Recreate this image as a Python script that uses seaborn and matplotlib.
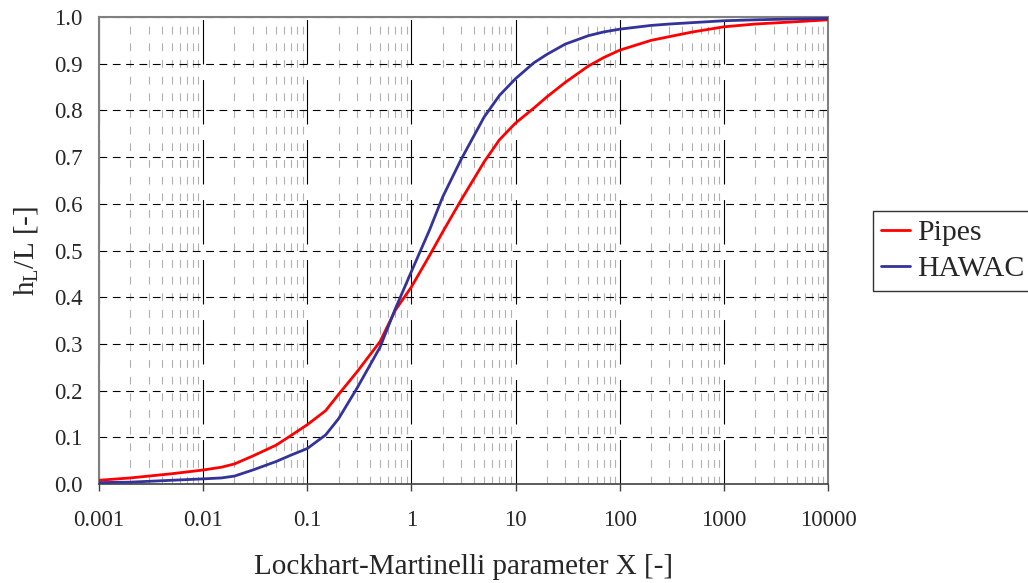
import numpy as np
import pandas as pd
import matplotlib
matplotlib.use("Agg")
import matplotlib.pyplot as plt
import matplotlib.ticker as mticker
import seaborn as sns

# ---- data ----
x_values = [0.001, 0.002, 0.005, 0.01, 0.015, 0.02, 0.03, 0.05, 0.07, 0.1, 0.15, 0.2, 0.3,
            0.5, 0.7, 1, 1.5, 2, 3, 5, 7, 10, 15, 20, 30, 50, 70, 100, 200, 300, 500,
            1000, 2000, 5000, 10000]
pipes = [0.008, 0.013, 0.022, 0.030, 0.036, 0.043, 0.060, 0.083, 0.104, 0.127, 0.157, 0.192,
         0.240, 0.305, 0.372, 0.422, 0.490, 0.540, 0.608, 0.690, 0.737, 0.773, 0.805, 0.829,
         0.860, 0.895, 0.913, 0.929, 0.950, 0.958, 0.968, 0.979, 0.985, 0.990, 0.994]
hawac = [0.003, 0.004, 0.008, 0.011, 0.013, 0.017, 0.030, 0.048, 0.062, 0.076, 0.105, 0.140,
         0.205, 0.293, 0.375, 0.455, 0.545, 0.615, 0.695, 0.786, 0.832, 0.868, 0.902, 0.920,
         0.942, 0.960, 0.968, 0.974, 0.982, 0.985, 0.988, 0.992, 0.994, 0.996, 0.997]
series_names = ["Pipes", "HAWAC"]
series_colors = ["#ff0000", "#333399"]
x_tick_values = [0.001, 0.01, 0.1, 1, 10, 100, 1000, 10000]
x_tick_labels = ["0.001", "0.01", "0.1", "1", "10", "100", "1000", "10000"]
y_tick_values = [0.0, 0.1, 0.2, 0.3, 0.4, 0.5, 0.6, 0.7, 0.8, 0.9, 1.0]

df = pd.DataFrame({
    "X": x_values * 2,
    "h": pipes + hawac,
    "series": [series_names[0]] * len(x_values) + [series_names[1]] * len(x_values),
})

sns.set_theme(style="white")
plt.rcParams["font.family"] = ["Liberation Serif", "DejaVu Serif"]
plt.rcParams["mathtext.default"] = "regular"

fig = plt.figure(figsize=(10.28, 5.83), dpi=100)
ax = fig.add_axes([0.0963, 0.1698, 0.7091, 0.8010])

sns.lineplot(data=df, x="X", y="h", hue="series", palette=series_colors,
             linewidth=2.0, ax=ax, legend=True, zorder=5)

ax.set_xscale("log")
ax.set_xlim(0.001, 10000)
ax.set_ylim(0, 1.0)

# grids
ax.xaxis.set_minor_locator(mticker.LogLocator(base=10, subs=np.arange(2, 10), numticks=100))
ax.xaxis.set_minor_formatter(mticker.NullFormatter())
for xv in x_tick_values:
    ax.axvline(xv, color="black", lw=0.8, dashes=(40, 14), zorder=1)
ax.grid(which="minor", axis="x", color="#b0b0b0", lw=0.8, dashes=(7, 8))
for yv in y_tick_values[1:]:
    ax.axhline(yv, color="black", lw=0.8, dashes=(7, 5), zorder=2)

ax.set_xticks(x_tick_values)
ax.set_xticklabels(x_tick_labels)
ax.set_yticks(y_tick_values)
ax.set_yticklabels([f"{v:.1f}" for v in y_tick_values])
ax.tick_params(axis="x", which="major", labelsize=16.5, length=5, width=1,
               direction="out", color="#404040", bottom=True, pad=14)
ax.tick_params(axis="y", which="major", labelsize=16.5, length=0, left=True, pad=12)
ax.tick_params(axis="x", which="minor", length=0)

for side in ["left", "top", "right"]:
    ax.spines[side].set_color("#808080")
    ax.spines[side].set_linewidth(1.5)
ax.spines["bottom"].set_color("#404040")
ax.spines["bottom"].set_linewidth(1.2)

ax.set_xlabel("Lockhart-Martinelli parameter X [-]", fontsize=21, labelpad=16)
ax.set_ylabel("h$_{L}$/L [-]", fontsize=21, labelpad=10)

handles, labels = ax.get_legend_handles_labels()
ax.legend(handles, labels, loc="upper left", bbox_to_anchor=(0.849, 0.6386),
          bbox_transform=fig.transFigure, frameon=True, fancybox=False,
          edgecolor="black", fontsize=21.5, handlelength=0.95, handletextpad=0.25,
          borderpad=0.28, labelspacing=0.32, borderaxespad=0)
leg = ax.get_legend()
leg.get_frame().set_linewidth(1.0)

fig.savefig("out.png", dpi=100)
